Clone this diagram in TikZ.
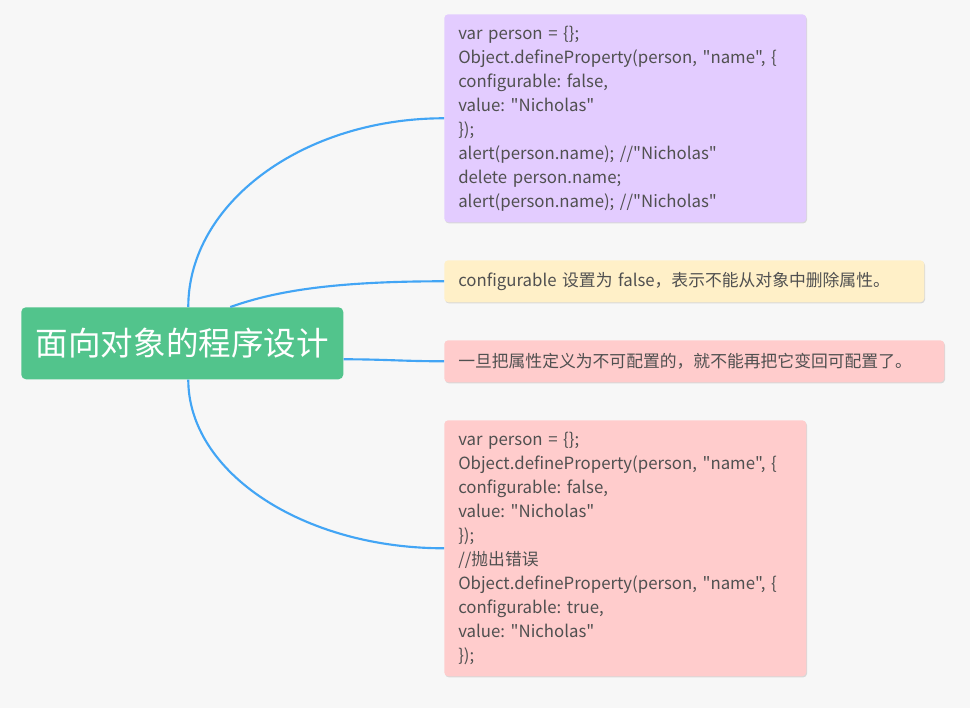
\documentclass[tikz,border=0pt]{standalone}
\usepackage{fontspec}
\newfontfamily\cjk{Noto Sans CJK SC}
\usetikzlibrary{shadows}
\frenchspacing
\definecolor{bg}{RGB}{247,247,247}
\definecolor{rootgreen}{RGB}{82,196,140}
\definecolor{boxpurple}{RGB}{227,204,255}
\definecolor{boxyellow}{RGB}{255,240,200}
\definecolor{boxpink}{RGB}{255,204,204}
\definecolor{linkblue}{RGB}{66,165,245}
\definecolor{txtgray}{RGB}{80,80,80}
\tikzset{
  leaf/.style={draw=none, rounded corners=3pt, anchor=north west, align=left,
    inner xsep=10.5pt, inner ysep=0pt, text=txtgray,
    font=\cjk\frenchspacing\fontsize{12.6}{18}\selectfont,
    drop shadow={shadow xshift=0.6pt, shadow yshift=-0.9pt, fill=black, opacity=0.12}},
  link/.style={draw=linkblue, line width=1.6pt}
}
\begin{document}
\begin{tikzpicture}[x=0.75pt,y=-0.75pt]
\fill[bg] (0,0) rectangle (970,708);
\useasboundingbox (0,0) rectangle (970,708);
\node[fill=rootgreen, rounded corners=3.5pt, text=white, anchor=north west,
  minimum width=241.5pt, minimum height=54pt, inner sep=0pt,
  font=\cjk\fontsize{24.4}{28}\selectfont] (root) at (21,307) {面向对象的程序设计};
\node[leaf, fill=boxpurple, minimum width=271.5pt, minimum height=156pt, text width=250.5pt] (b1) at (444,14)
 {var person = \{\};\\
  Object.defineProperty(person, "name", \{\\
  configurable: false,\\
  value: "Nicholas"\\
  \});\\
  alert(person.name); //"Nicholas"\\
  delete person.name;\\
  alert(person.name); //"Nicholas"};
\node[leaf, fill=boxyellow, minimum width=360pt, minimum height=31.5pt, text width=339pt] (b2) at (444,260)
 {configurable 设置为 false，表示不能从对象中删除属性。};
\node[leaf, fill=boxpink, minimum width=375pt, minimum height=31.5pt, text width=354pt] (b3) at (444,340)
 {一旦把属性定义为不可配置的，就不能再把它变回可配置了。};
\node[leaf, fill=boxpink, minimum width=271.5pt, minimum height=192pt, text width=250.5pt] (b4) at (444,420)
 {var person = \{\};\\
  Object.defineProperty(person, "name", \{\\
  configurable: false,\\
  value: "Nicholas"\\
  \});\\
  //抛出错误\\
  Object.defineProperty(person, "name", \{\\
  configurable: true,\\
  value: "Nicholas"\\
  \});};
\draw[link] ([xshift=4.5pt]root.north) .. controls +(0,-104) and +(-141,0) .. (b1.west);
\draw[link] ([xshift=36pt]root.north) .. controls +(40,-14) and +(-120,0) .. (b2.west);
\draw[link] ([yshift=-12pt]root.east) .. controls +(40,0) and +(-40,0) .. (b3.west);
\draw[link] ([xshift=4.5pt]root.south) .. controls +(0,93) and +(-141,0) .. (b4.west);
\end{tikzpicture}
\end{document}
